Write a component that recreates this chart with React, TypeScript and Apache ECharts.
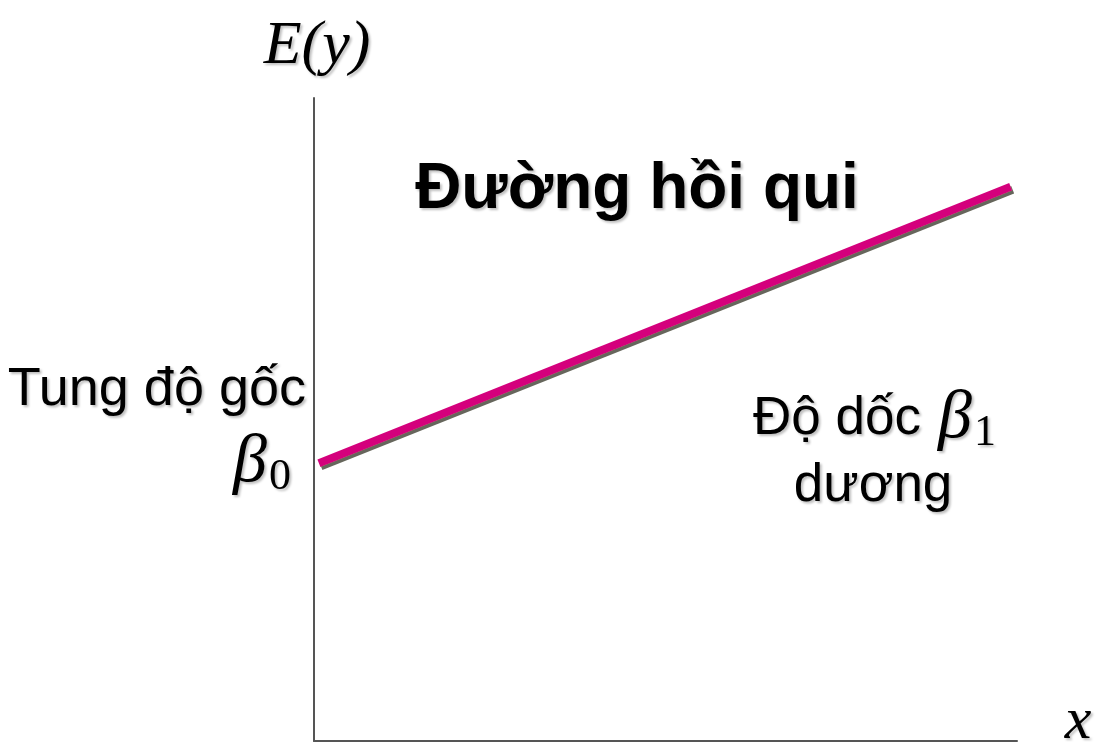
import React, { useEffect, useRef } from "react";
import * as echarts from "echarts";

// Regression line endpoints (axis units, x: 0..100, y: 0..100)
const lineX = [0.7, 99.1];
const lineY = [43.2, 86.2];
const axisMax = [100, 100];

const titleText = "Đường hồi qui";
const interceptLabel = "Tung độ gốc";
const slopeLabel = "Độ dốc";
const slopeSign = "dương";
const yAxisName = "E(y)";
const xAxisName = "x";

export default function App() {
  const ref = useRef<HTMLDivElement>(null);
  useEffect(() => {
    if (!ref.current) return;
    const chart = echarts.init(ref.current, undefined, { renderer: "svg" });
    const sans = "'Liberation Sans', Arial, sans-serif";
    const serif = "'Liberation Serif', 'Times New Roman', serif";
    const shadow = {
      textShadowColor: "rgba(0,0,0,0.25)",
      textShadowOffsetX: 2,
      textShadowOffsetY: 2,
      textShadowBlur: 2,
    };
    const data = lineX.map((x, i) => [x, lineY[i]]);
    const txt = (
      text: string,
      x: number,
      y: number,
      font: string,
      align: string
    ) => ({
      type: "text",
      x,
      y,
      silent: true,
      style: {
        text,
        font,
        fill: "#000",
        align,
        verticalAlign: "middle",
        ...shadow,
      },
    });
    chart.setOption({
      animation: false,
      backgroundColor: "#ffffff",
      grid: { left: 314, right: 78, top: 98, bottom: 13 },
      xAxis: {
        type: "value",
        min: 0,
        max: axisMax[0],
        axisLine: { show: true, lineStyle: { color: "#555555", width: 2 } },
        axisTick: { show: false },
        axisLabel: { show: false },
        splitLine: { show: false },
      },
      yAxis: {
        type: "value",
        min: 0,
        max: axisMax[1],
        axisLine: { show: true, lineStyle: { color: "#555555", width: 2 } },
        axisTick: { show: false },
        axisLabel: { show: false },
        splitLine: { show: false },
      },
      series: [
        {
          type: "line",
          data,
          symbol: "none",
          silent: true,
          lineStyle: {
            color: "#D4007C",
            width: 8,
            cap: "butt",
            shadowColor: "#66665c",
            shadowOffsetX: 2,
            shadowOffsetY: 3,
            shadowBlur: 0,
          },
        },
      ],
      graphic: [
        txt(yAxisName, 317, 42, `italic 62px ${serif}`, "center"),
        txt(titleText, 637, 186, `bold 64px ${sans}`, "center"),
        txt(interceptLabel, 306, 386, `54px ${sans}`, "right"),
        txt("β", 233, 458, `italic 68px ${serif}`, "left"),
        txt("0", 269, 474, `44px ${serif}`, "left"),
        txt(slopeLabel, 753, 415, `53px ${sans}`, "left"),
        txt("β", 938, 414, `italic 68px ${serif}`, "left"),
        txt("1", 974, 430, `44px ${serif}`, "left"),
        txt(slopeSign, 873, 482, `53px ${sans}`, "center"),
        txt(xAxisName, 1078, 718, `italic 60px ${serif}`, "center"),
      ],
    });
    return () => chart.dispose();
  }, []);
  return (
    <div
      ref={ref}
      style={{ position: "fixed", left: 0, top: 0, width: 1095, height: 754 }}
    />
  );
}
